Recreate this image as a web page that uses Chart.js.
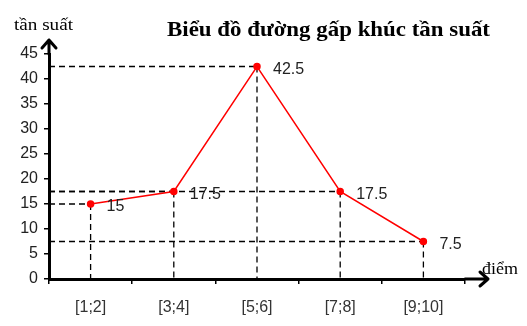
<!DOCTYPE html>
<html>
<head>
<meta charset="utf-8">
<script src="https://cdn.jsdelivr.net/npm/chart.js@4.4.1/dist/chart.umd.min.js"></script>
<style>
  body { margin: 0; background: #fff; }
  #wrap { width: 527px; height: 326px; position: relative; }
</style>
</head>
<body>
<div id="wrap"><canvas id="chart"></canvas></div>
<script>
// ===== DATA =====
const categories = ["[1;2]", "[3;4]", "[5;6]", "[7;8]", "[9;10]"];
const frequency = [15, 17.5, 42.5, 17.5, 7.5];
const pointLabels = ["15", "17.5", "42.5", "17.5", "7.5"];
const yTicks = [0, 5, 10, 15, 20, 25, 30, 35, 40, 45];

const titleText = "Biểu đồ đường gấp khúc tần suất";
const yAxisName = "tần suất";
const xAxisName = "điểm";

// draw text squeezed/stretched to a given width
function fitText(ctx, text, x, y, width) {
  const w = ctx.measureText(text).width;
  ctx.save();
  ctx.translate(x, y);
  ctx.scale(width / w, 1);
  ctx.fillText(text, 0, 0);
  ctx.restore();
}

// ===== DASHED GUIDES + ARROWS + TEXT =====
const decorPlugin = {
  id: "decor",
  beforeDatasetsDraw(chart) {
    const ctx = chart.ctx;
    const xs = chart.scales.x, ys = chart.scales.y;
    const meta = chart.getDatasetMeta(0);
    const x0 = xs.left, y0 = ys.bottom;
    ctx.save();
    ctx.strokeStyle = "#000";
    ctx.lineWidth = 1.3;
    ctx.setLineDash([6, 4]);
    meta.data.forEach((pt, i) => {
      ctx.beginPath();
      ctx.moveTo(x0, pt.y);
      ctx.lineTo(pt.x, pt.y);
      ctx.moveTo(pt.x, pt.y);
      ctx.lineTo(pt.x, y0);
      ctx.stroke();
    });
    ctx.restore();
  },
  afterDraw(chart) {
    const ctx = chart.ctx;
    const xs = chart.scales.x, ys = chart.scales.y;
    const meta = chart.getDatasetMeta(0);
    ctx.save();
    // axis arrows
    ctx.strokeStyle = "#000";
    ctx.lineWidth = 3;
    ctx.lineCap = "round";
    ctx.lineJoin = "round";
    const ax = xs.left, ay = ys.bottom;
    ctx.beginPath();
    ctx.moveTo(ax, ys.top); ctx.lineTo(ax, 40);
    ctx.moveTo(ax - 7, 48); ctx.lineTo(ax, 40); ctx.lineTo(ax + 7, 48);
    ctx.moveTo(xs.right, ay); ctx.lineTo(488, ay);
    ctx.moveTo(480, ay - 7); ctx.lineTo(488, ay); ctx.lineTo(480, ay + 7);
    ctx.stroke();

    // point labels
    ctx.fillStyle = "#222";
    ctx.font = "16px 'Liberation Sans', Arial, sans-serif";
    ctx.textAlign = "left";
    ctx.textBaseline = "middle";
    meta.data.forEach((pt, i) => {
      ctx.fillText(pointLabels[i], pt.x + 16, pt.y + 3);
    });

    // title and axis names
    ctx.fillStyle = "#000";
    ctx.font = "bold 21px 'Liberation Serif', 'Times New Roman', serif";
    fitText(ctx, titleText, 167, 31, 323);
    ctx.font = "16px 'Liberation Serif', 'Times New Roman', serif";
    fitText(ctx, yAxisName, 14, 26, 59);
    fitText(ctx, xAxisName, 482, 270, 36);
    ctx.restore();
  }
};

const ctx = document.getElementById("chart").getContext("2d");
new Chart(ctx, {
  type: "line",
  data: {
    labels: categories,
    datasets: [{
      data: frequency,
      borderColor: "#ff0000",
      backgroundColor: "#ff0000",
      borderWidth: 1.5,
      pointRadius: 3,
      pointHoverRadius: 3,
      fill: false,
      tension: 0
    }]
  },
  options: {
    responsive: true,
    maintainAspectRatio: false,
    animation: false,
    layout: { padding: { top: 54, right: 62, left: 0, bottom: 0 } },
    plugins: {
      legend: { display: false },
      tooltip: { enabled: false }
    },
    scales: {
      x: {
        offset: true,
        grid: { offset: true, drawOnChartArea: false, color: "#000", tickLength: 5, lineWidth: 1.5 },
        border: { color: "#000", width: 3 },
        ticks: { color: "#333", padding: 14, font: { size: 16, family: "'Liberation Sans', Arial, sans-serif" } },
        afterFit: s => { s.height = 47; }
      },
      y: {
        min: 0,
        max: 45,
        afterBuildTicks: s => { s.ticks = yTicks.map(v => ({ value: v })); },
        grid: { drawOnChartArea: false, color: "#000", tickLength: 5, lineWidth: 1.5 },
        border: { color: "#000", width: 3 },
        ticks: { color: "#222", padding: 6, font: { size: 16, family: "'Liberation Sans', Arial, sans-serif" } },
        afterFit: s => { s.width = 49; }
      }
    }
  },
  plugins: [decorPlugin]
});
</script>
</body>
</html>
